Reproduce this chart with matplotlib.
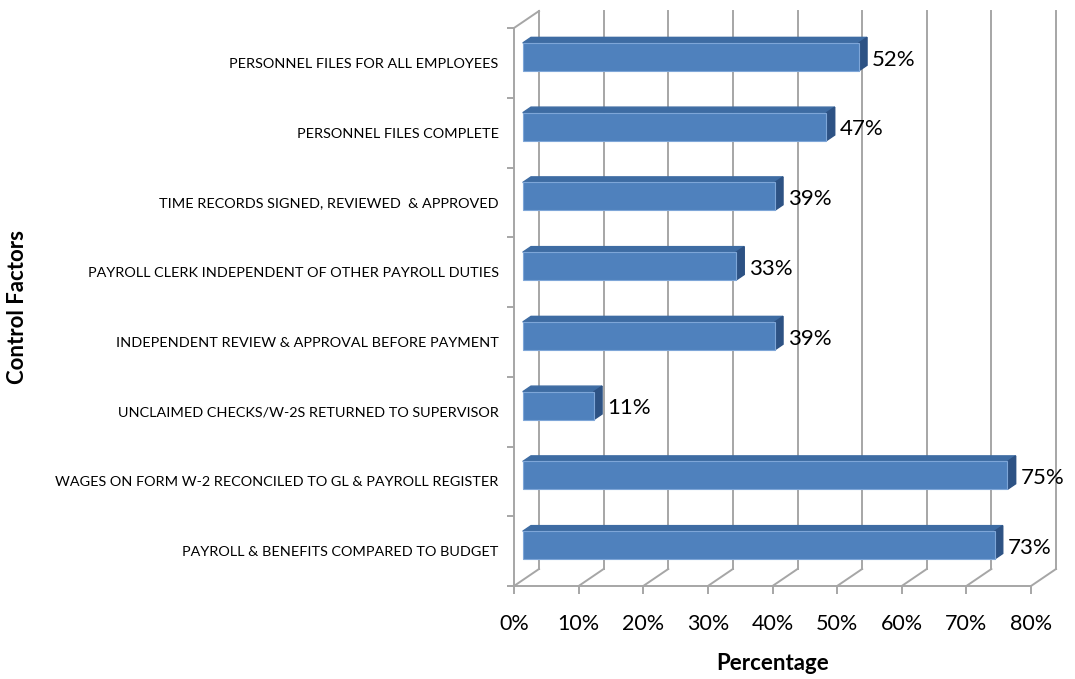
import matplotlib
matplotlib.use("Agg")
import matplotlib.pyplot as plt
from matplotlib.patches import Polygon

plt.rcParams["font.family"] = ["Lato", "DejaVu Sans"]

# data, top to bottom as shown
factors = [
    "PERSONNEL FILES FOR ALL EMPLOYEES",
    "PERSONNEL FILES COMPLETE",
    "TIME RECORDS SIGNED, REVIEWED  & APPROVED",
    "PAYROLL CLERK INDEPENDENT OF OTHER PAYROLL DUTIES",
    "INDEPENDENT REVIEW & APPROVAL BEFORE PAYMENT",
    "UNCLAIMED CHECKS/W-2S RETURNED TO SUPERVISOR",
    "WAGES ON FORM W-2 RECONCILED TO GL & PAYROLL REGISTER",
    "PAYROLL & BENEFITS COMPARED TO BUDGET",
]
percent = [52, 47, 39, 33, 39, 11, 75, 73]
x_ticks = [0, 10, 20, 30, 40, 50, 60, 70, 80]
x_tick_labels = [f"{t}%" for t in x_ticks]

W, H = 1075, 679
fig = plt.figure(figsize=(W / 100, H / 100), dpi=100)
ax = fig.add_axes([514 / W, (H - 586) / H, 517 / W, 558 / H])
n = len(factors)
ax.set_xlim(0, 80)
ax.set_ylim(0, n)

# 3d depth offset in data units
dx = 25 / (517 / 80)
dy = 17 / (558 / n)
grid_c = "#a6a6a6"
lw = 1.4

for s in ["top", "right"]:
    ax.spines[s].set_visible(False)
for s in ["left", "bottom"]:
    ax.spines[s].set_color(grid_c)
    ax.spines[s].set_linewidth(lw)

# back wall gridlines and floor diagonals
for t in x_ticks:
    ax.plot([t + dx, t + dx], [dy, n + dy], color=grid_c, lw=lw, clip_on=False, zorder=1)
    ax.plot([t, t + dx], [0, dy], color=grid_c, lw=lw, clip_on=False, zorder=1)
ax.plot([0, dx], [n, n + dy], color=grid_c, lw=lw, clip_on=False, zorder=1)

ax.set_xticks(x_ticks)
ax.set_xticklabels(x_tick_labels, fontsize=15.5)
ax.tick_params(axis="x", length=6, width=lw, color=grid_c, pad=14)

centers = [n - i - 0.5 for i in range(n)]
ax.set_yticks(centers)
ax.set_yticklabels(factors, fontsize=10.4)
ax.set_yticks(list(range(n + 1)), minor=True)
ax.tick_params(axis="y", which="major", length=0, pad=11)
ax.tick_params(axis="y", which="minor", length=5, width=lw, color=grid_c)

# bars: front face + top + side
f0, f1 = 0.35, 0.68
h = 0.4
front_c = "#4f81bd"
top_c = "#3e6ca3"
side_c = "#2d5284"
for yc, v in zip(centers, percent):
    y0 = yc - h / 2 + f0 * dy
    y1 = yc + h / 2 + f0 * dy
    ax.barh(yc + f0 * dy, v, left=f0 * dx, height=h, color=front_c,
            edgecolor="#7ea6d8", linewidth=0.8, clip_on=False, zorder=3)
    top = [(f0 * dx, y1), (v + f0 * dx, y1),
           (v + f1 * dx, y1 + (f1 - f0) * dy), (f1 * dx, y1 + (f1 - f0) * dy)]
    side = [(v + f0 * dx, y0), (v + f0 * dx, y1),
            (v + f1 * dx, y1 + (f1 - f0) * dy), (v + f1 * dx, y0 + (f1 - f0) * dy)]
    ax.add_patch(Polygon(top, closed=True, color=top_c, clip_on=False, zorder=2))
    ax.add_patch(Polygon(side, closed=True, color=side_c, clip_on=False, zorder=2))
    ax.text(v + f1 * dx + 0.8, yc + f0 * dy - 0.04, f"{v}%", fontsize=16,
            va="center", ha="left", zorder=4)

ax.set_xlabel("Percentage", fontsize=16, fontweight="bold", labelpad=14)
fig.text(18 / W, 1 - 307 / H, "Control Factors", rotation=90, fontsize=16,
         fontweight="bold", ha="center", va="center")

fig.savefig("out.png", dpi=100)
